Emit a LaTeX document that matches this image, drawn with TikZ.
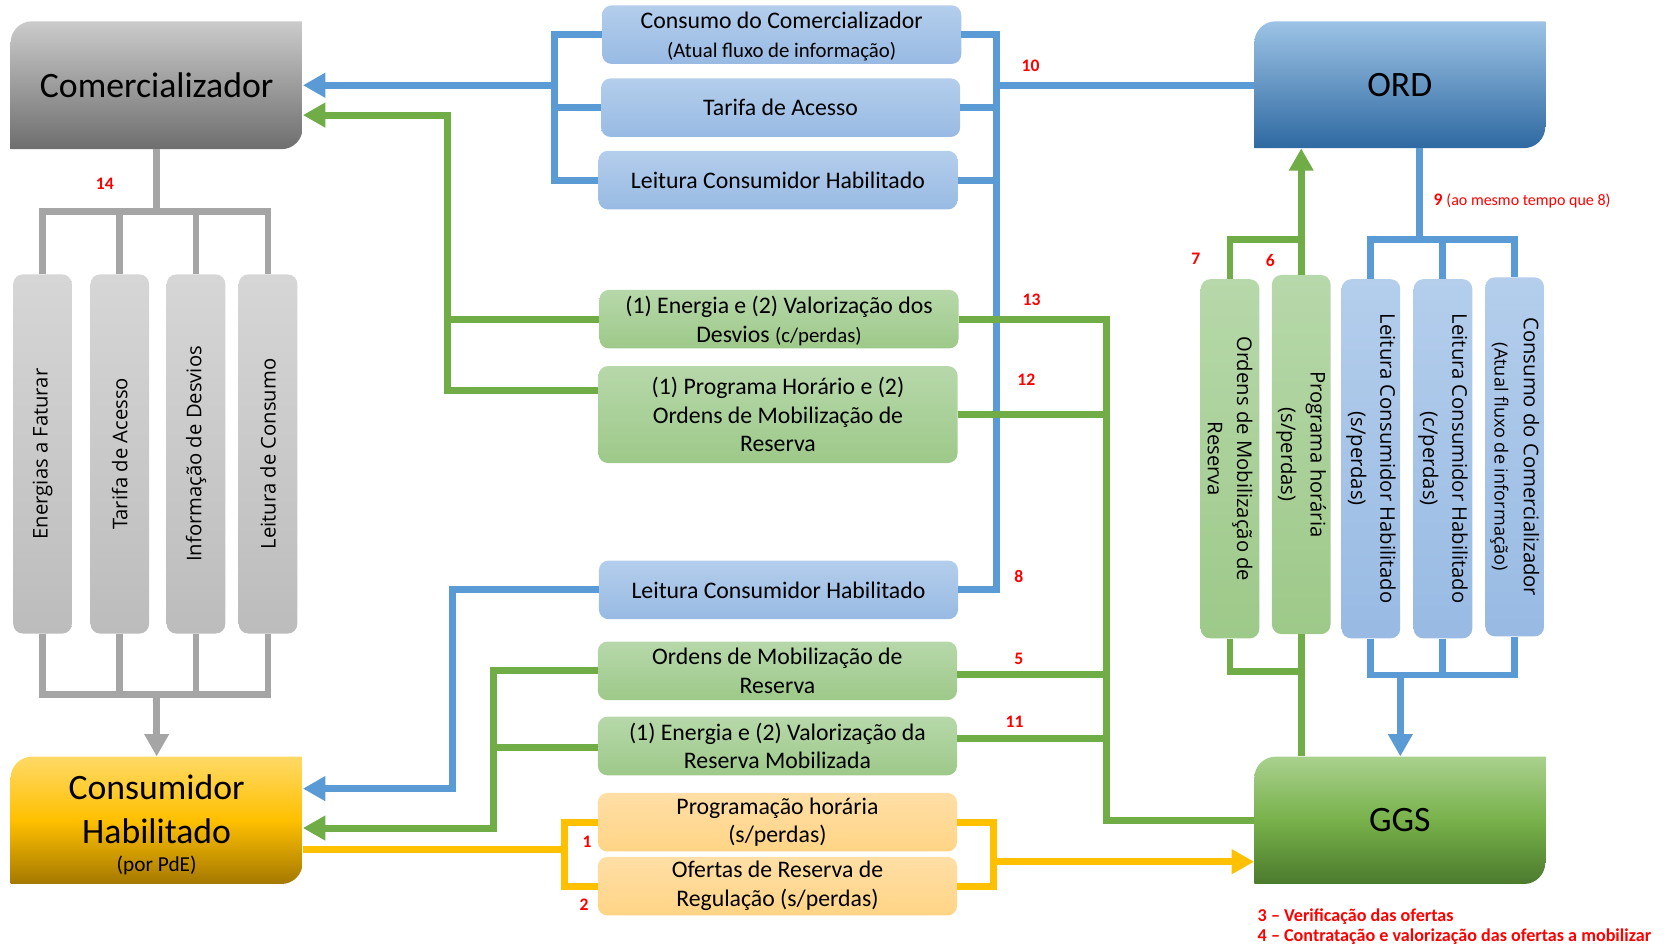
\documentclass[tikz,border=0pt]{standalone}
\usepackage{fontspec}
\setmainfont{Carlito}
\newfontfamily\osfont{Open Sans}
\usetikzlibrary{arrows.meta}
\definecolor{lblue}{HTML}{5B9BD5}
\definecolor{lgreen}{HTML}{70AD47}
\definecolor{lyellow}{HTML}{FFC000}
\definecolor{lgray}{HTML}{A5A5A5}
\definecolor{comtop}{HTML}{CBCBCB}
\definecolor{combot}{HTML}{6E6E6E}
\definecolor{ordtop}{HTML}{9DC3E6}
\definecolor{ordbot}{HTML}{2E69A1}
\definecolor{contop}{HTML}{FFD966}
\definecolor{conmid}{HTML}{FFC000}
\definecolor{conbot}{HTML}{A47800}
\definecolor{ggstop}{HTML}{A9D18E}
\definecolor{ggsmid}{HTML}{78B14A}
\definecolor{ggsbot}{HTML}{4B7A2D}
\definecolor{btop}{HTML}{B4CEEC}
\definecolor{bbot}{HTML}{98BAE3}
\definecolor{gtop}{HTML}{B7D8AA}
\definecolor{gbot}{HTML}{9DC989}
\definecolor{ytop}{HTML}{FFDFA6}
\definecolor{ybot}{HTML}{FFD485}
\definecolor{gytop}{HTML}{D6D6D6}
\definecolor{gybot}{HTML}{BCBCBC}
\begin{document}
\begin{tikzpicture}[x=1pt,y=-1pt,
  ln/.style={line width=6.5pt},
  bl/.style={ln,draw=lblue},
  gl/.style={ln,draw=lgreen},
  yl/.style={ln,draw=lyellow},
  gyl/.style={ln,draw=lgray},
  arr/.style={-{Triangle[length=21pt,width=22pt]}},
  sbox/.style={rounded corners=9pt, minimum width=337pt, minimum height=55pt, align=center, inner sep=2pt, font=\fontsize{22.3}{27}\selectfont},
  bluebox/.style={sbox, top color=btop, bottom color=bbot},
  greenbox/.style={sbox, top color=gtop, bottom color=gbot},
  yelbox/.style={sbox, top color=ytop, bottom color=ybot},
  vbox/.style={rounded corners=9pt, minimum width=337pt, minimum height=55pt, align=center, inner sep=2pt, font=\osfont\fontsize{19}{27.5}\selectfont},
  vgray/.style={vbox, rotate=90, top color=gytop, bottom color=gybot},
  vgreen/.style={vbox, rotate=-90, top color=gtop, bottom color=gbot},
  vblue/.style={vbox, rotate=-90, top color=btop, bottom color=bbot},
  bigt/.style={inner sep=0pt, align=center, font=\fontsize{33.5}{41}\selectfont},
  lab/.style={inner sep=0pt, text=red, font=\bfseries\fontsize{16.5}{19}\selectfont},
  leg/.style={inner sep=0pt, text=red, anchor=west, font=\bfseries\fontsize{17}{20}\selectfont}
]
\useasboundingbox (0,0) rectangle (1568,888);

% ---- big boxes (rounded top-left and bottom-right) ----
\begin{scope}
\clip[rounded corners=20pt] (10,20) rectangle (284,140) [sharp corners] (10,80) rectangle (147,140) (147,20) rectangle (284,80);
\shade[top color=comtop, bottom color=combot] (10,20) rectangle (284,140);
\end{scope}
\begin{scope}
\clip[rounded corners=20pt] (1177,20) rectangle (1450,139) [sharp corners] (1177,80) rectangle (1313,139) (1313,20) rectangle (1450,80);
\shade[top color=ordtop, bottom color=ordbot] (1177,20) rectangle (1450,139);
\end{scope}
\begin{scope}
\clip[rounded corners=20pt] (10,710) rectangle (284,829.5) [sharp corners] (10,770) rectangle (147,829.5) (147,710) rectangle (284,770);
\shade[top color=contop, bottom color=conbot, middle color=conmid] (10,710) rectangle (284,829.5);
\end{scope}
\begin{scope}
\clip[rounded corners=20pt] (1177,710) rectangle (1450,829.5) [sharp corners] (1177,770) rectangle (1313,829.5) (1313,710) rectangle (1450,770);
\shade[top color=ggstop, bottom color=ggsbot, middle color=ggsmid] (1177,710) rectangle (1450,829.5);
\end{scope}

\node[bigt, minimum width=274pt, minimum height=120pt] (com) at (147,80) {Comercializador};
\node[bigt, minimum width=273pt, minimum height=119pt] (ord) at (1313.5,79.5) {ORD};
\node[bigt, minimum width=274pt, minimum height=119.5pt] (con) at (147,769.75) {\rule{0pt}{32pt}Consumidor\\Habilitado\\[-14pt]{\fontsize{20}{24}\selectfont (por PdE)}};
\node[bigt, minimum width=273pt, minimum height=119.5pt] (ggs) at (1313.5,769.75) {GGS};

% ---- middle boxes ----
\node[bluebox] (b1) at (733.5,32.5) {\rule{0pt}{19pt}Consumo do Comercializador\\{\fontsize{19.5}{27}\selectfont (Atual fluxo de informação)}};
\node[bluebox] (b2) at (732.5,101) {Tarifa de Acesso};
\node[bluebox] (b3) at (730,169) {Leitura Consumidor Habilitado};
\node[greenbox] (g1) at (731,299.5) {\rule{0pt}{19pt}(1) Energia e (2) Valorização dos\\Desvios {\fontsize{19.5}{27}\selectfont (c/perdas)}};
\node[greenbox, minimum height=91pt] (g2) at (730,389) {(1) Programa Horário e (2)\\Ordens de Mobilização de\\Reserva};
\node[bluebox] (b4) at (730.5,553.5) {Leitura Consumidor Habilitado};
\node[greenbox] (g3) at (729.5,629.5) {Ordens de Mobilização de\\Reserva};
\node[greenbox] (g4) at (729.5,700) {(1) Energia e (2) Valorização da\\Reserva Mobilizada};
\node[yelbox] (y1) at (729.5,771.5) {Programação horária\\(s/perdas)};
\node[yelbox] (y2) at (729.5,831.5) {Ofertas de Reserva de\\Regulação (s/perdas)};

% ---- vertical boxes ----
\node[vgray] (v1) at (39.9,426) {Energias a Faturar};
\node[vgray] (v2) at (112.4,426) {Tarifa de Acesso};
\node[vgray] (v3) at (183.9,426) {Informação de Desvios};
\node[vgray] (v4) at (251.5,426) {Leitura de Consumo};
\node[vgreen] (r1) at (1154.2,430.5) {Ordens de Mobilização de\\Reserva};
\node[vgreen] (r2) at (1221,426.5) {Programa horária\\(s/perdas)};
\node[vblue] (r3) at (1286.4,430.5) {Leitura Consumidor Habilitado\\(s/perdas)};
\node[vblue] (r4) at (1354,430.5) {Leitura Consumidor Habilitado\\(c/perdas)};
\node[vblue] (r5) at (1421.3,428.7) {Consumo do Comercializador\\{\fontsize{17}{22}\selectfont (Atual fluxo de informação)}};

% ---- blue connectors ----
\coordinate (jbl) at (520,80);
\draw[bl] (b1.west) -- (b1.west -| jbl) -- (b3.west -| jbl) -- (b3.west);
\draw[bl] (b2.west) -- (b2.west -| jbl);
\draw[bl,arr] (jbl) -- (jbl -| com.east);
\coordinate (jbr) at (935,80);
\draw[bl] (b1.east) -- (b1.east -| jbr) -- (b4.east -| jbr) -- (b4.east);
\draw[bl] (b2.east) -- (b2.east -| jbr);
\draw[bl] (b3.east) -- (b3.east -| jbr);
\draw[bl] (jbr) -- (jbr -| ord.west);
\coordinate (jbc) at (425,740);
\draw[bl,arr] (b4.west) -- (b4.west -| jbc) -- (jbc) -- (jbc -| con.east);

% ---- green connectors ----
\coordinate (jgl) at (420,108);
\coordinate (jg2) at (420,366);
\draw[gl,arr] (jg2 -| g2.west) -- (jg2) -- (jgl) -- (jgl -| com.east);
\draw[gl] (g1.west) -- (g1.west -| jgl);
\coordinate (jgr) at (1038,770);
\draw[gl] (g1.east) -- (g1.east -| jgr) -- (jgr) -- (jgr -| ggs.west);
\draw[gl] (g2.east) -- (g2.east -| jgr);
\coordinate (j5) at (1038,633);
\draw[gl] (j5 -| g3.east) -- (j5);
\coordinate (j11) at (1038,693);
\draw[gl] (j11 -| g4.east) -- (j11);
\coordinate (jgc) at (463,777);
\draw[gl,arr] (g3.west) -- (g3.west -| jgc) -- (jgc) -- (jgc -| con.east);
\coordinate (jg4) at (463,701);
\draw[gl] (jg4 -| g4.west) -- (jg4);

% ---- yellow connectors ----
\coordinate (jyl) at (530,797);
\draw[yl] (jyl -| con.east) -- (jyl);
\draw[yl] (y1.west) -- (y1.west -| jyl) -- (y2.west -| jyl) -- (y2.west);
\coordinate (jyr) at (932,808.6);
\draw[yl] (y1.east) -- (y1.east -| jyr) -- (y2.east -| jyr) -- (y2.east);
\draw[yl,arr] (jyr) -- (jyr -| ggs.west);

% ---- gray connectors ----
\coordinate (jgt) at (147,198.6);
\draw[gyl] (com.south) -- (jgt);
\draw[gyl] (v1.east) -- (v1.east |- jgt) -- (v4.east |- jgt) -- (v4.east);
\draw[gyl] (v2.east) -- (v2.east |- jgt);
\draw[gyl] (v3.east) -- (v3.east |- jgt);
\coordinate (jgb) at (147,652);
\draw[gyl] (v1.west) -- (v1.west |- jgb) -- (v4.west |- jgb) -- (v4.west);
\draw[gyl] (v2.west) -- (v2.west |- jgb);
\draw[gyl] (v3.west) -- (v3.west |- jgb);
\draw[gyl,arr] (jgb) -- (con.north);

% ---- right side connectors ----
\coordinate (jgo) at (1221,224.6);
\draw[gl] (r1.west) -- (r1.west |- jgo) -- (jgo);
\draw[gl,arr] (r2.west) -- (r2.west |- ord.south);
\coordinate (jgg) at (1221,630);
\draw[gl] (r1.east) -- (r1.east |- jgg) -- (jgg);
\draw[gl] (r2.east) -- (r2.east |- ggs.north);
\coordinate (jbo) at (1332,224.6);
\draw[bl] (jbo |- ord.south) -- (jbo);
\draw[bl] (r3.west) -- (r3.west |- jbo) -- (r5.west |- jbo) -- (r5.west);
\draw[bl] (r4.west) -- (r4.west |- jbo);
\coordinate (jbg) at (1314,633.4);
\draw[bl] (r3.east) -- (r3.east |- jbg) -- (r5.east |- jbg) -- (r5.east);
\draw[bl] (r4.east) -- (r4.east |- jbg);
\draw[bl,arr] (jbg) -- (jbg |- ggs.north);

% ---- labels ----
\node[lab] (l10) at (967,61.6) {10};
\node[lab] (l14) at (98.3,172) {14};
\node[lab] (l13) at (968,281) {13};
\node[lab] (l12) at (963,356.6) {12};
\node[lab] (l8) at (956,540.5) {8};
\node[lab] (l5) at (956,618.7) {5};
\node[lab] (l11) at (952,677) {11};
\node[lab] (l1) at (551,790) {1};
\node[lab] (l2) at (548,849) {2};
\node[lab] (l7) at (1122,243) {7};
\node[lab] (l6) at (1192,244.6) {6};
\node[lab, anchor=west] (l9) at (1345,188.6) {9 {\mdseries\fontsize{15}{18}\selectfont(ao mesmo tempo que 8)}};
\node[leg] (lg3) at (1180,860) {3 – Verificação das ofertas};
\node[leg] (lg4) at (1180,879) {4 – Contratação e valorização das ofertas a mobilizar};
\end{tikzpicture}
\end{document}
